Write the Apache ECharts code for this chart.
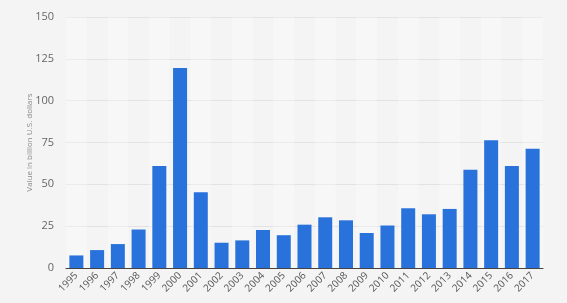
<!DOCTYPE html>
<html><head><meta charset="utf-8">
<script src="https://cdn.jsdelivr.net/npm/echarts@6/dist/echarts.min.js"></script>
<style>html,body{margin:0;padding:0;background:#f4f4f4;}#c{width:567px;height:303px;}</style>
</head><body><div id="c"></div>
<script>
const years = ['1995','1996','1997','1998','1999','2000','2001','2002','2003','2004','2005','2006','2007','2008','2009','2010','2011','2012','2013','2014','2015','2016','2017'];
const values = [7.5,10.7,14.3,23,61,119.5,45.3,15.1,16.5,22.7,19.6,25.9,30.3,28.5,20.9,25.4,35.7,32.1,35.3,58.7,76.3,60.9,71.2];
const yTicks = [0,25,50,75,100,125,150];
const yName = 'Value in billion U.S. dollars';

const chart = echarts.init(document.getElementById('c'), null, {renderer:'canvas'});
chart.setOption({
  backgroundColor:'#f4f4f4',
  animation:false,
  grid:{left:66,right:24,top:17,bottom:35,containLabel:false},
  xAxis:{
    type:'category', data:years,
    axisLine:{lineStyle:{color:'#444',width:1}},
    axisTick:{show:false},
    axisLabel:{rotate:45,fontSize:10,color:'#555',fontFamily:'Open Sans, sans-serif',margin:6,interval:0},
    splitArea:{show:true,areaStyle:{color:['rgba(255,255,255,0.3)','rgba(255,255,255,0)']}}
  },
  yAxis:{
    type:'value', min:yTicks[0], max:yTicks[yTicks.length-1], interval:25,
    name:yName, nameLocation:'middle', nameGap:32, nameMoveOverlap:false,
    nameTextStyle:{fontSize:8,color:'#888',fontFamily:'Open Sans, sans-serif'},
    axisLine:{show:false}, axisTick:{show:false},
    axisLabel:{fontSize:11,color:'#666',fontFamily:'Open Sans, sans-serif',margin:12},
    splitLine:{lineStyle:{color:'#e2e2e2',width:1}}
  },
  series:[{type:'bar',data:values,barWidth:14,itemStyle:{color:'#2a72db'}}]
});
</script></body></html>
